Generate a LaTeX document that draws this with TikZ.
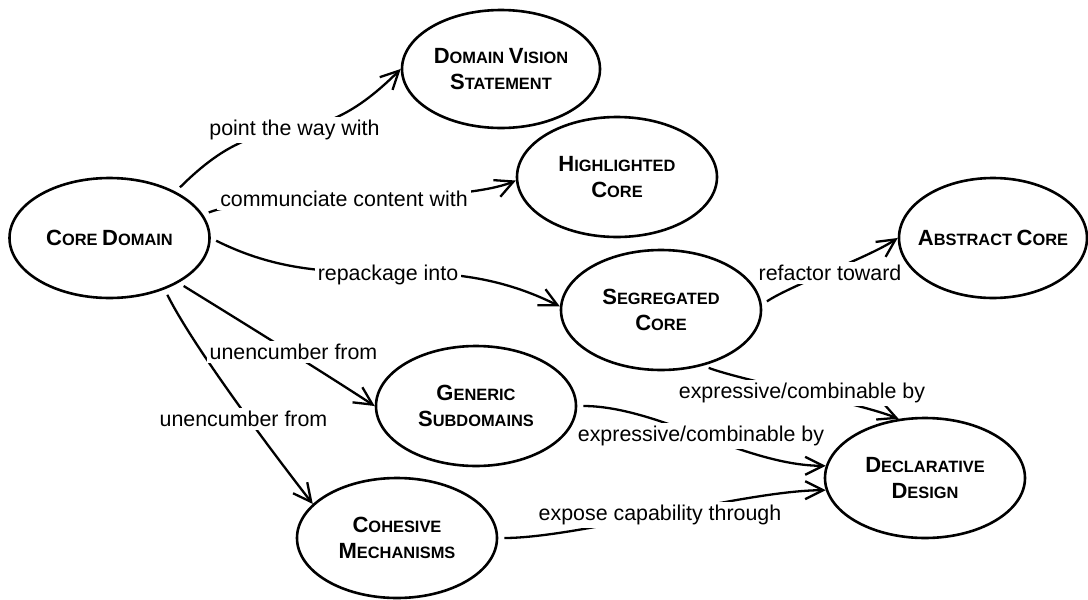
\documentclass[tikz,border=0pt]{standalone}
\usepackage{fontspec}
\setmainfont{Liberation Sans}
\usetikzlibrary{shapes.geometric,arrows.meta}

% larger initial capital for the faked small-caps concept names
\newcommand\bigini[1]{{\fontsize{11}{13}\selectfont #1}}

\begin{document}
\begin{tikzpicture}[x=0.5pt,y=-0.5pt,
  concept/.style={ellipse, draw, line width=1.3pt, minimum width=100pt,
                  minimum height=60pt, inner sep=0pt},
  ctext/.style={font=\fontsize{8.2}{13}\selectfont\bfseries, align=center},
  rel/.style={font=\fontsize{10.7}{12}\selectfont, fill=white, inner sep=1.5pt},
  link/.style={line width=1.15pt, -{Straight Barb[length=9pt,width=9pt]},
               shorten <=3pt}]
\useasboundingbox (0,0) rectangle (1088,600);

% concepts
\node[concept, label={[ctext]center:{\bigini{C}ORE \bigini{D}OMAIN}}] (core) at (109.5,238) {};
\node[concept, minimum width=99pt, minimum height=59pt,
      label={[ctext]center:{\bigini{D}OMAIN \bigini{V}ISION\\\bigini{S}TATEMENT}}] (dvs) at (501,69) {};
\node[concept, label={[ctext]center:{\bigini{H}IGHLIGHTED\\\bigini{C}ORE}}] (hc) at (617,177) {};
\node[concept, minimum width=94pt, label={[ctext]center:{\bigini{A}BSTRACT \bigini{C}ORE}}] (abs) at (993,238) {};
\node[concept, label={[ctext]center:{\bigini{S}EGREGATED\\\bigini{C}ORE}}] (seg) at (661,310) {};
\node[concept, label={[ctext]center:{\bigini{G}ENERIC\\\bigini{S}UBDOMAINS}}] (gs) at (476,406) {};
\node[concept, label={[ctext]center:{\bigini{C}OHESIVE\\\bigini{M}ECHANISMS}}] (cm) at (397,538) {};
\node[concept, label={[ctext]center:{\bigini{D}ECLARATIVE\\\bigini{D}ESIGN}}] (decl) at (925,478) {};

% relationships
\draw[link] (core.35) .. controls +(100,-100) and +(-100,100) .. (dvs.180);
\draw[link] (core.14) .. controls +(50,-20) and +(-60,25) .. (hc.182);
\draw[link] (core.0) .. controls +(130,65) and +(-130,-65) .. (seg.178);
\draw[link] (seg.3) .. controls +(30,-20) and +(-30,20) .. (abs.180);
\draw[link] (seg.-53) .. controls +(40,15) and +(-40,-16) .. (decl.114);
\draw[link] (core.-33) .. controls +(60,37) and +(-60,-39) .. (gs.180);
\draw[link] (core.-43) .. controls +(30,60) and +(-35,-45) .. (cm.158);
\draw[link] (gs.0) .. controls +(80,0) and +(-80,0) .. (decl.173);
\draw[link] (cm.0) .. controls +(80,0) and +(-80,0) .. (decl.187);

% relationship labels, set over the lines
\node[rel] (l1) at (294.5,130) {point the way with};
\node[rel] (l2) at (344,199) {communciate content with};
\node[rel] (l3) at (388,275) {repackage into};
\node[rel] (l4) at (830,273) {refactor toward};
\node[rel] (l5) at (802,393) {expressive/combinable by};
\node[rel] (l6) at (293.5,352) {unencumber from};
\node[rel] (l7) at (243.5,419) {unencumber from};
\node[rel] (l8) at (701,436) {expressive/combinable by};
\node[rel] (l9) at (660,515) {expose capability through};
\end{tikzpicture}
\end{document}
